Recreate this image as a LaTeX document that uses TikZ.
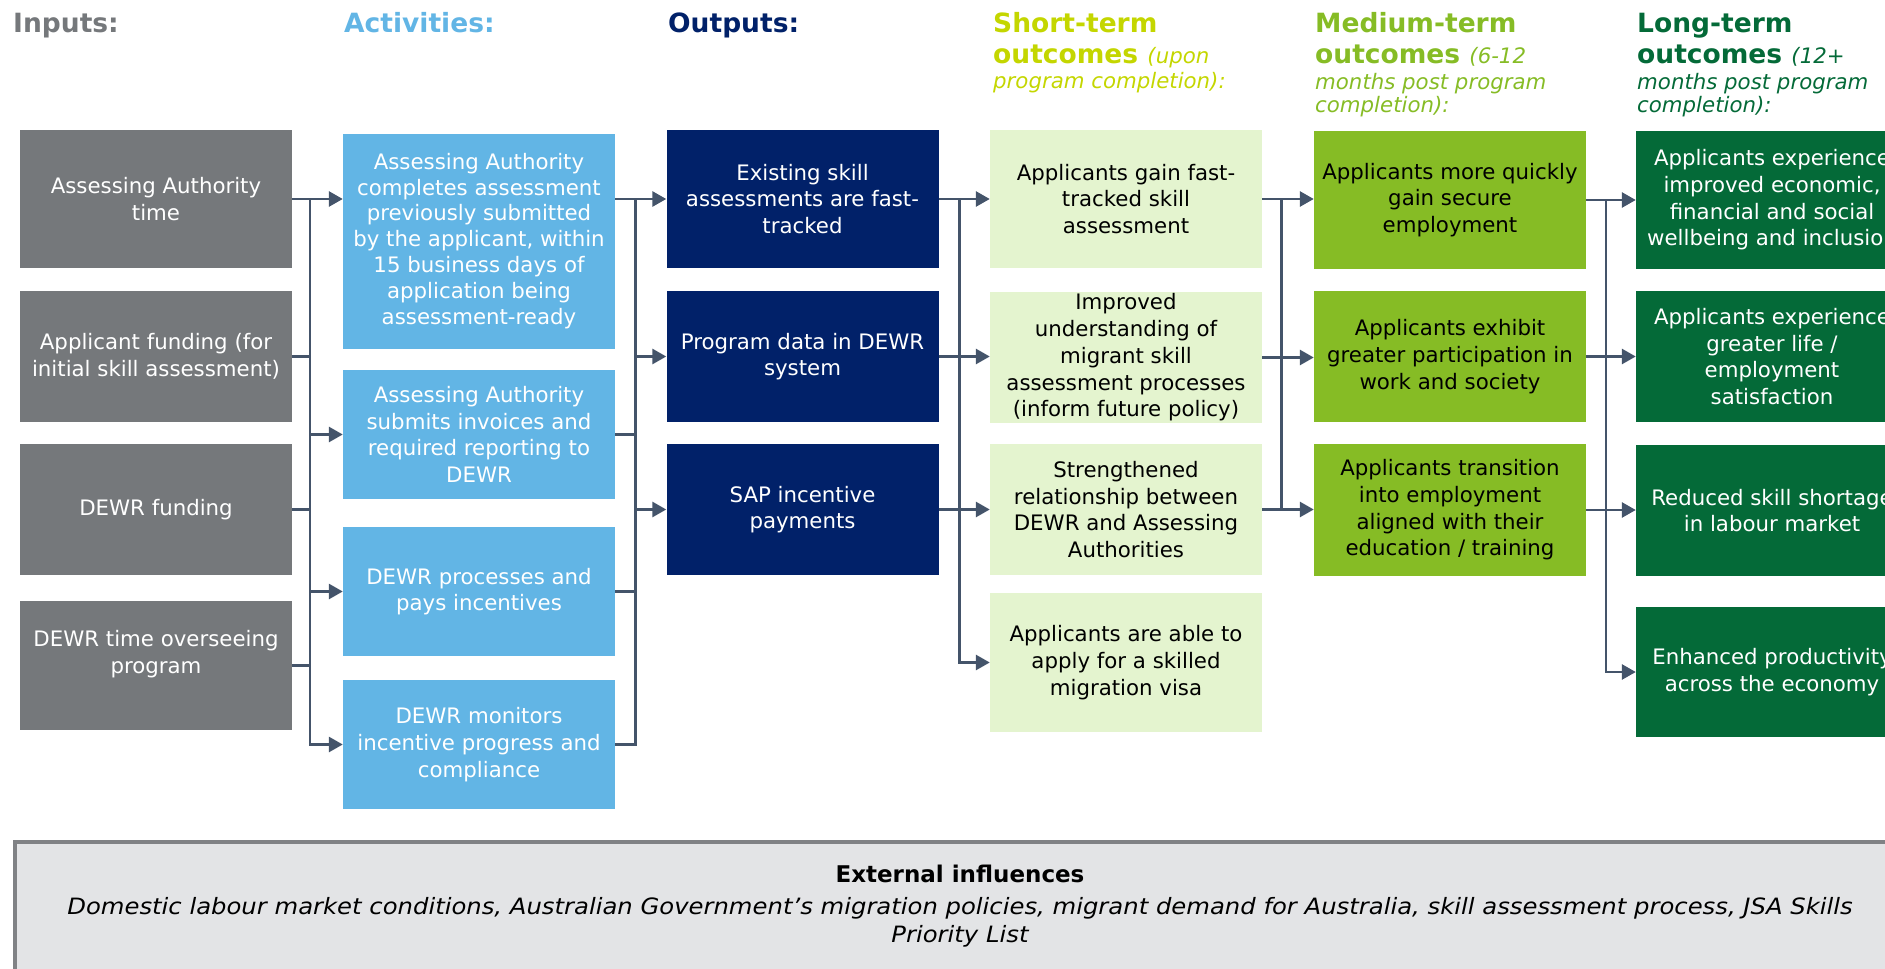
\documentclass[tikz,border=0pt]{standalone}
\usepackage{fontspec}
\setmainfont{DejaVu Sans}
\newfontfamily\extitfont{DejaVu Sans Oblique}[FakeStretch=1.08]
\usetikzlibrary{arrows.meta}
\definecolor{cIn}{HTML}{75787B}
\definecolor{cAct}{HTML}{62B5E5}
\definecolor{cOut}{HTML}{012169}
\definecolor{cShort}{HTML}{E4F4CF}
\definecolor{cShortH}{HTML}{C4D600}
\definecolor{cMed}{HTML}{86BC25}
\definecolor{cLong}{HTML}{046A38}
\definecolor{cLine}{HTML}{44546A}
\definecolor{cExt}{HTML}{E3E4E6}
\definecolor{cExtB}{HTML}{808285}
\newcommand{\myBody}{\fontsize{21.3}{26.7}\selectfont}
\newcommand{\myHead}{\fontsize{26.5}{31}\selectfont\bfseries}
\newcommand{\myHit}{\fontsize{21.3}{26}\selectfont\mdseries\itshape}
\tikzset{
  box/.style={rectangle, inner sep=0pt, minimum width=272pt, align=center, font=\myBody},
  inbox/.style={box, fill=cIn, text=white},
  actbox/.style={box, fill=cAct, text=white},
  outbox/.style={box, fill=cOut, text=white},
  stbox/.style={box, fill=cShort, text=black},
  mdbox/.style={box, fill=cMed, text=black},
  lgbox/.style={box, fill=cLong, text=white},
  conn/.style={draw=cLine, line width=2.8pt},
  arr/.style={conn, -{Triangle[length=14pt,width=15pt]}},
  hd/.style={anchor=base west, inner sep=0pt, font=\myHead},
  hdi/.style={anchor=base west, inner sep=0pt, font=\myHit},
}
\begin{document}
\begin{tikzpicture}[x=1pt,y=-1pt]
\useasboundingbox (0,0) rectangle (1885,969);
\clip (0,0) rectangle (1885,969);

% headers
\node[hd, text=cIn] (hIn) at (13,32) {Inputs:};
\node[hd, text=cAct] (hAct) at (344,32) {Activities:};
\node[hd, text=cOut] (hOut) at (668,32) {Outputs:};
\node[hd, text=cShortH] (hSt1) at (993,32) {Short-term};
\node[hd, text=cShortH] (hSt2) at (993,63) {outcomes {\myHit (upon}};
\node[hdi, text=cShortH] (hSt3) at (993,88) {program completion):};
\node[hd, text=cMed] (hMd1) at (1315,32) {Medium-term};
\node[hd, text=cMed] (hMd2) at (1315,63) {outcomes {\myHit (6-12}};
\node[hdi, text=cMed] (hMd3) at (1315,89) {months post program};
\node[hdi, text=cMed] (hMd4) at (1315,112) {completion):};
\node[hd, text=cLong] (hLg1) at (1637,32) {Long-term};
\node[hd, text=cLong] (hLg2) at (1637,63) {outcomes {\myHit (12+}};
\node[hdi, text=cLong] (hLg3) at (1637,89) {months post program};
\node[hdi, text=cLong] (hLg4) at (1637,112) {completion):};

% inputs
\node[inbox, minimum height=138pt] (in1) at (156,199) {Assessing Authority\\time};
\node[inbox, minimum height=131pt] (in2) at (156,356.5) {Applicant funding (for\\initial skill assessment)};
\node[inbox, minimum height=131pt] (in3) at (156,509.5) {DEWR funding};
\node[inbox, minimum height=129pt] (in4) at (156,665.5) {DEWR time overseeing\\program\\\mbox{}};

% activities
\node[actbox, minimum height=215pt, font=\fontsize{21.3}{25.9}\selectfont] (act1) at (479,241) {Assessing Authority\\completes assessment\\previously submitted\\by the applicant, within\\15 business days of\\application being\\assessment-ready};
\node[actbox, minimum height=129pt] (act2) at (479,434.5) {Assessing Authority\\submits invoices and\\required reporting to\\DEWR};
\node[actbox, minimum height=129pt] (act3) at (479,591.5) {DEWR processes and\\pays incentives};
\node[actbox, minimum height=129pt] (act4) at (479,744.5) {DEWR monitors\\incentive progress and\\compliance};

% outputs
\node[outbox, minimum height=138pt] (out1) at (802.5,199) {Existing skill\\assessments are fast-\\tracked};
\node[outbox, minimum height=131pt] (out2) at (802.5,356.5) {Program data in DEWR\\system};
\node[outbox, minimum height=131pt] (out3) at (802.5,509.5) {SAP incentive\\payments};

% short-term
\node[stbox, minimum height=138pt] (st1) at (1126,199) {Applicants gain fast-\\tracked skill\\assessment};
\node[stbox, minimum height=131pt] (st2) at (1126,357.5) {Improved\\understanding of\\migrant skill\\assessment processes\\(inform future policy)};
\node[stbox, minimum height=131pt] (st3) at (1126,509.5) {Strengthened\\relationship between\\DEWR and Assessing\\Authorities};
\node[stbox, minimum height=139pt] (st4) at (1126,662.5) {Applicants are able to\\apply for a skilled\\migration visa};

% medium-term
\node[mdbox, minimum height=138pt] (md1) at (1450,200) {Applicants more quickly\\gain secure\\employment};
\node[mdbox, minimum height=131pt] (md2) at (1450,356.5) {Applicants exhibit\\greater participation in\\work and society};
\node[mdbox, minimum height=132pt] (md3) at (1450,510) {Applicants transition\\into employment\\aligned with their\\education / training};

% long-term
\node[lgbox, minimum height=138pt] (lg1) at (1772,200) {Applicants experience\\improved economic,\\financial and social\\wellbeing and inclusion};
\node[lgbox, minimum height=131pt] (lg2) at (1772,356.5) {Applicants experience\\greater life /\\employment\\satisfaction};
\node[lgbox, minimum height=131pt] (lg3) at (1772,510.5) {Reduced skill shortage\\in labour market};
\node[lgbox, minimum height=130pt] (lg4) at (1772,672) {Enhanced productivity\\across the economy};

% bus coordinates
\coordinate (b1) at (310,0);
\coordinate (b2) at (635.5,0);
\coordinate (b3) at (959.6,0);
\coordinate (b4) at (1281.5,0);
\coordinate (b5) at (1606,0);

% inputs -> activities
\draw[arr] (in1.east) -- (act1.west |- in1.east);
\draw[conn] (in2.east) -- (b1 |- in2.east);
\draw[conn] (in3.east) -- (b1 |- in3.east);
\draw[conn] (in4.east) -- (b1 |- in4.east);
\draw[arr] (b1 |- in1.east) -- (b1 |- act4.west) -- (act4.west);
\draw[arr] (b1 |- act2.west) -- (act2.west);
\draw[arr] (b1 |- act3.west) -- (act3.west);

% activities -> outputs
\draw[arr] (act1.east |- out1.west) -- (out1.west);
\draw[conn] (act4.east) -- (b2 |- act4.east) -- (b2 |- out1.west);
\draw[conn] (act2.east) -- (b2 |- act2.east);
\draw[conn] (act3.east) -- (b2 |- act3.east);
\draw[arr] (b2 |- out2.west) -- (out2.west);
\draw[arr] (b2 |- out3.west) -- (out3.west);

% outputs -> short-term
\draw[arr] (out1.east) -- (st1.west |- out1.east);
\draw[arr] (out2.east) -- (st2.west |- out2.east);
\draw[arr] (out3.east) -- (st3.west |- out3.east);
\draw[arr] (b3 |- out1.east) -- (b3 |- st4.west) -- (st4.west);

% short-term -> medium-term
\draw[arr] (st1.east) -- (md1.west |- st1.east);
\draw[arr] (st2.east) -- (md2.west |- st2.east);
\draw[arr] (st3.east) -- (md3.west |- st3.east);
\draw[conn] (b4 |- st1.east) -- (b4 |- st3.east);

% medium-term -> long-term
\draw[arr] (md1.east) -- (lg1.west);
\draw[arr] (md2.east) -- (lg2.west);
\draw[arr] (md3.east) -- (lg3.west |- md3.east);
\draw[arr] (b5 |- md1.east) -- (b5 |- lg4.west) -- (lg4.west);

% external influences
\node[draw=cExtB, fill=cExt, line width=4pt, minimum width=1895pt, minimum height=170pt, inner sep=0pt, anchor=north west] (ext) at (13,840) {};
\node[anchor=base, inner sep=0pt, font=\fontsize{23}{28}\selectfont\bfseries] (extT) at (960,882) {External influences};
\node[anchor=base, inner sep=0pt, font=\fontsize{22.5}{28}\extitfont] (extL1) at (960,914) {Domestic labour market conditions, Australian Government’s migration policies, migrant demand for Australia, skill assessment process, JSA Skills};
\node[anchor=base, inner sep=0pt, font=\fontsize{22.5}{28}\extitfont] (extL2) at (960,942) {Priority List};
\end{tikzpicture}
\end{document}
